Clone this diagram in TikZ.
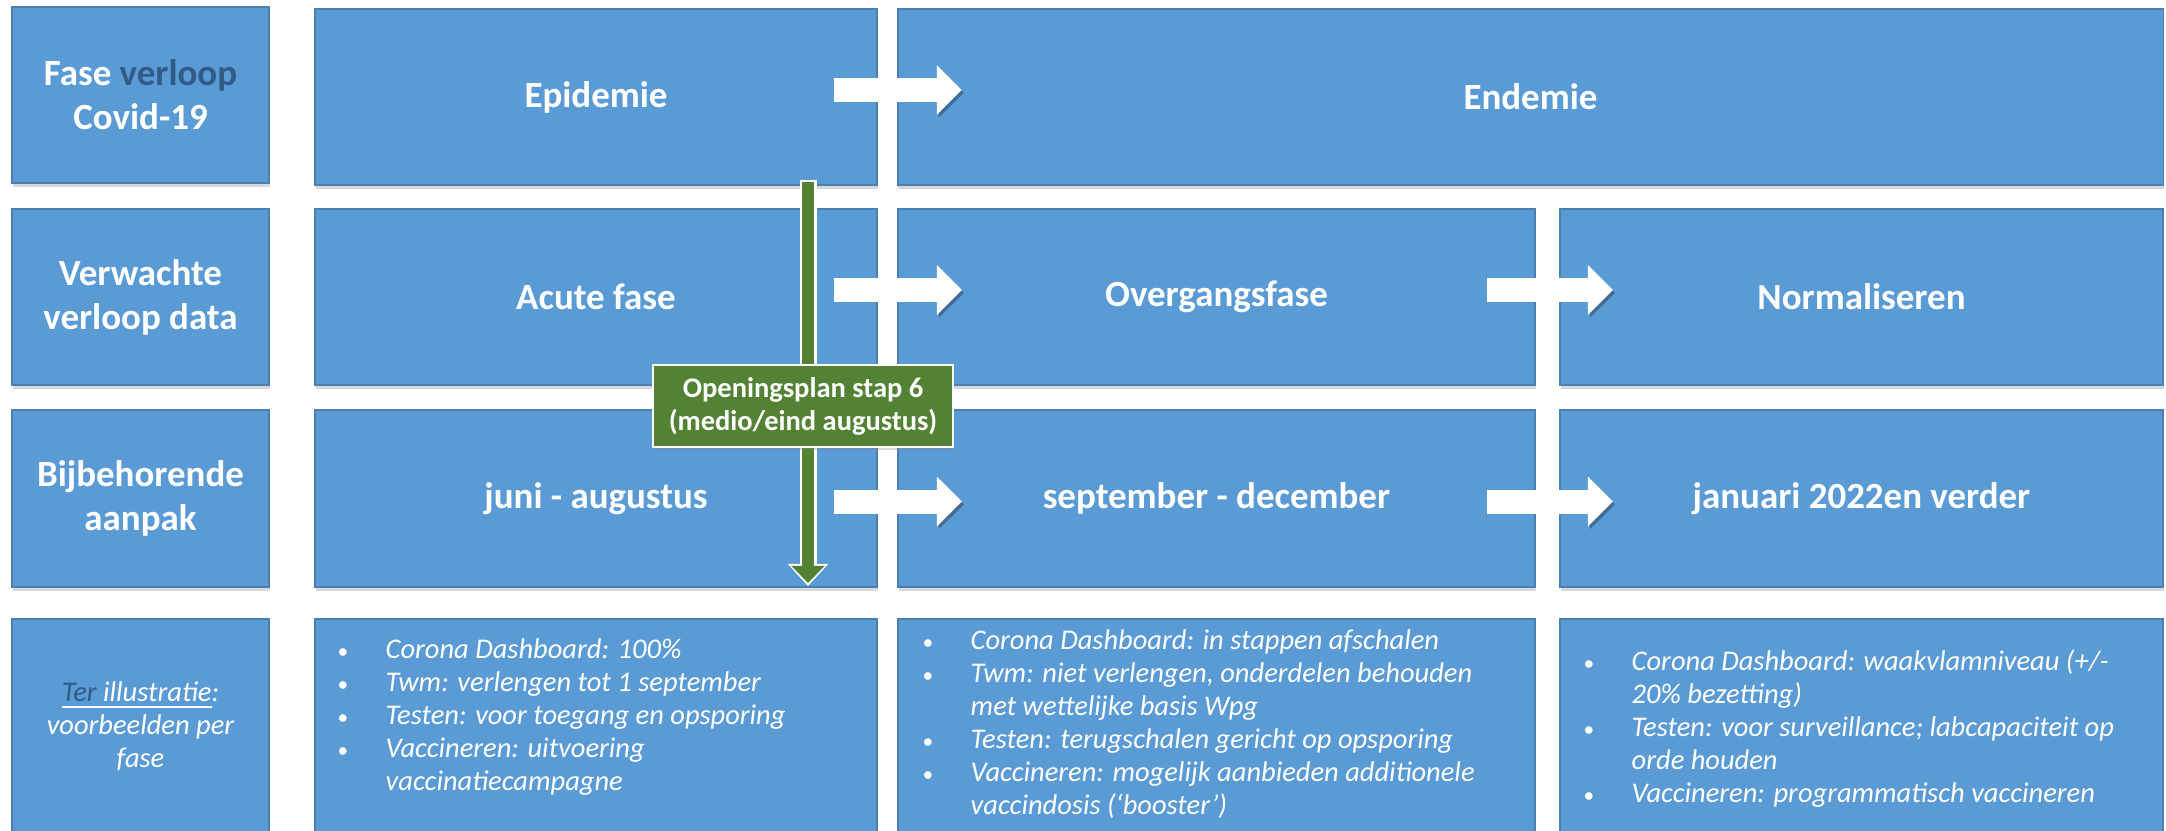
\documentclass[tikz,border=0pt]{standalone}
\usepackage{fontspec}
\setmainfont{Carlito}
\usetikzlibrary{shadows,arrows.meta}
\definecolor{blu}{HTML}{5B9BD5}
\definecolor{blurand}{HTML}{4A7FB2}
\definecolor{donker}{HTML}{2F5B86}
\definecolor{groen}{HTML}{548235}
\newcommand{\bol}{\textup{\scalebox{0.75}{\textbullet}}}

\begin{document}
\begin{tikzpicture}[x=0.01cm,y=-0.01cm,
    cel/.style={rectangle, fill=blu, draw=blurand, line width=0.5pt, text=white, align=center, inner sep=0pt,
      drop shadow={opacity=0.3, shadow xshift=0.2pt, shadow yshift=-1pt}},
    kop/.style={font=\bfseries\fontsize{10.5}{12.5}\selectfont},
    toel/.style={font=\itshape\fontsize{8.1}{9.4}\selectfont},
    lijst/.style={text=white, inner sep=0pt, anchor=base west, font=\itshape\fontsize{8.1}{9.4}\selectfont},
    pijl/.style={white, line width=0.24cm, -{Triangle[width=0.48cm,length=0.25cm]},
      preaction={draw=blu!70!black, transform canvas={shift={(0.6pt,-0.8pt)}}}},
    groenrand/.style={white, line width=0.17cm, -{Triangle[width=0.39cm,length=0.22cm]}},
    groenpijl/.style={groen, line width=0.12cm, -{Triangle[width=0.32cm,length=0.17cm]}},
    stap/.style={rectangle, fill=groen, draw=white, line width=0.7pt, text=white, align=center,
      minimum width=3cm, minimum height=0.82cm, font=\bfseries\fontsize{8.1}{9.4}\selectfont,
      drop shadow={opacity=0.3, shadow xshift=0.3pt, shadow yshift=-0.8pt}}]
\useasboundingbox (0,0) rectangle (2166,830);
\clip (0,0) rectangle (2166,830);

% linker kolom
\node[cel, kop, minimum width=2.57cm, minimum height=1.76cm] (k1) at (140.5,95) {Fase {\color{donker}verloop}\\Covid-19};
\node[cel, kop, minimum width=2.57cm, minimum height=1.76cm] (k2) at (140.5,297) {Verwachte\\verloop data};
\node[cel, kop, minimum width=2.57cm, minimum height=1.77cm] (k3) at (140.5,498.5) {Bijbehorende\\aanpak};
\node[cel, toel, minimum width=2.57cm, minimum height=2.15cm] (k4) at (140.5,726.5) {\underline{{\color{donker}Ter} illustratie}:\\voorbeelden per\\fase};

% fasen
\node[cel, kop, minimum width=5.62cm, minimum height=1.76cm] (ep) at (596,97) {Epidemie};
\node[cel, kop, minimum width=12.65cm, minimum height=1.76cm] (en) at (1530.5,97) {Endemie};

\node[cel, kop, minimum width=5.62cm, minimum height=1.76cm] (ac) at (596,297) {Acute fase};
\node[cel, kop, minimum width=6.37cm, minimum height=1.76cm] (og) at (1216.5,297) {Overgangsfase};
\node[cel, kop, minimum width=6.03cm, minimum height=1.76cm] (no) at (1861.5,297) {Normaliseren};

\node[cel, kop, minimum width=5.62cm, minimum height=1.77cm] (ju) at (596,498.5) {juni - augustus};
\node[cel, kop, minimum width=6.37cm, minimum height=1.77cm] (se) at (1216.5,498.5) {september - december};
\node[cel, kop, minimum width=6.03cm, minimum height=1.77cm] (ja) at (1861.5,498.5) {januari 2022en verder};

\node[cel, minimum width=5.62cm, minimum height=2.15cm] (v2) at (596,726.5) {};
\node[cel, minimum width=6.37cm, minimum height=2.15cm] (v3) at (1216.5,726.5) {};
\node[cel, minimum width=6.03cm, minimum height=2.15cm] (v4) at (1861.5,726.5) {};

% voorbeelden
\node[lijst] (t2) at (337,658) {\begin{tabular}[t]{@{}p{0.48cm}@{}l@{}}
\bol & Corona Dashboard: 100\%\\
\bol & Twm: verlengen tot 1 september\\
\bol & Testen: voor toegang en opsporing\\
\bol & Vaccineren: uitvoering\\
 & vaccinatiecampagne
\end{tabular}};
\node[lijst] (t3) at (922,649) {\begin{tabular}[t]{@{}p{0.48cm}@{}l@{}}
\bol & Corona Dashboard: in stappen afschalen\\
\bol & Twm: niet verlengen, onderdelen behouden\\
 & met wettelijke basis Wpg\\
\bol & Testen: terugschalen gericht op opsporing\\
\bol & Vaccineren: mogelijk aanbieden additionele\\
 & vaccindosis (‘booster’)
\end{tabular}};
\node[lijst] (t4) at (1583,670) {\begin{tabular}[t]{@{}p{0.48cm}@{}l@{}}
\bol & Corona Dashboard: waakvlamniveau (+/-\\
 & 20\% bezetting)\\
\bol & Testen: voor surveillance; labcapaciteit op\\
 & orde houden\\
\bol & Vaccineren: programmatisch vaccineren
\end{tabular}};

% pijlen
\draw[pijl] ([xshift=-0.44cm,yshift=0.07cm]ep.east) -- ([xshift=0.65cm,yshift=0.07cm]en.west);
\draw[pijl] ([xshift=-0.44cm,yshift=0.07cm]ac.east) -- ([xshift=0.65cm,yshift=0.07cm]og.west);
\draw[pijl] ([xshift=-0.49cm,yshift=0.07cm]og.east) -- ([xshift=0.54cm,yshift=0.07cm]no.west);
\draw[pijl] ([xshift=-0.44cm,yshift=-0.03cm]ju.east) -- ([xshift=0.65cm,yshift=-0.03cm]se.west);
\draw[pijl] ([xshift=-0.49cm,yshift=-0.03cm]se.east) -- ([xshift=0.54cm,yshift=-0.03cm]ja.west);

% openingsplan
\coordinate (gtop) at (808,180);
\coordinate (gbot) at (808,586);
\draw[groenrand] (gtop) -- (gbot);
\draw[groenpijl] ([yshift=-0.02cm]gtop) -- ([yshift=0.03cm]gbot);
\node[stap] (s6) at (803,406) {Openingsplan stap 6\\(medio/eind augustus)};

\end{tikzpicture}
\end{document}
